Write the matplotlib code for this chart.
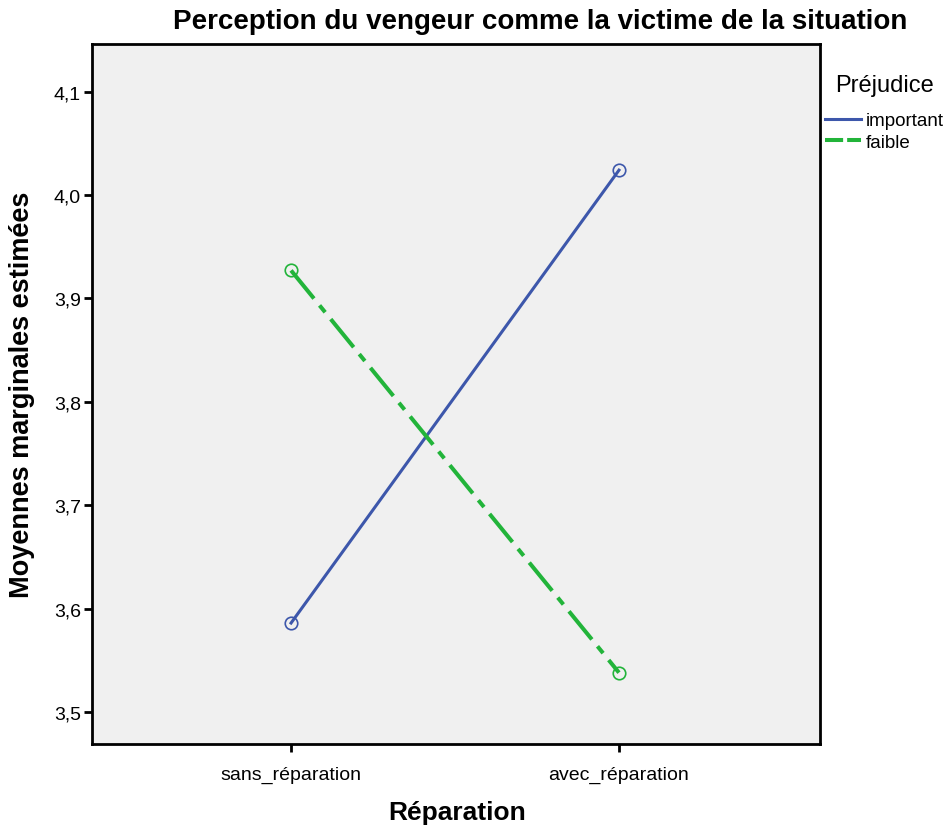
import matplotlib.pyplot as plt
from matplotlib.lines import Line2D
from matplotlib.ticker import FuncFormatter

plt.rcParams['font.family'] = ['Liberation Sans', 'DejaVu Sans']

categories = ['sans_réparation', 'avec_réparation']
important = [3.586, 4.024]
faible = [3.927, 3.538]
yticks = [3.5, 3.6, 3.7, 3.8, 3.9, 4.0, 4.1]

blue = '#3D57AB'
green = '#22B43A'
dashdot = (0, (9, 2.2, 2.2, 2.2))

fig = plt.figure(figsize=(9.45, 8.28), dpi=100)
ax = fig.add_axes([92/945, 1 - 745/828, 728/945, 700/828])
ax.set_facecolor('#F0F0F0')

x = list(range(len(categories)))
ax.plot(x, important, color=blue, lw=2.2, marker='o', ms=9, mfc='none',
        mec=blue, mew=1.2)
ax.plot(x, faible, color=green, lw=2.9, ls=dashdot, marker='o', ms=9,
        mfc='none', mec=green, mew=1.2)

ax.set_xlim(-0.607, 1.613)
ax.set_ylim(3.469, 4.146)
ax.set_xticks(x)
ax.set_xticklabels(categories, fontsize=14)
ax.set_yticks(yticks)
ax.yaxis.set_major_formatter(FuncFormatter(lambda v, p: f'{v:.1f}'.replace('.', ',')))
ax.tick_params(axis='y', labelsize=14, length=6, width=2, direction='out', pad=2)
ax.tick_params(axis='x', length=6, width=2, direction='out', pad=10)
for s in ax.spines.values():
    s.set_linewidth(2)

fig.text(540/945, 1 - 22/828, 'Perception du vengeur comme la victime de la situation',
         fontsize=20, fontweight='bold', ha='center', va='center')
fig.text(457/945, 1 - 813/828, 'Réparation', fontsize=19, fontweight='bold',
         ha='center', va='center')
fig.text(22/945, 1 - 395/828, 'Moyennes marginales estimées', fontsize=19.5,
         fontweight='bold', ha='center', va='center', rotation=90)

fig.text(835/945, 1 - 86/828, 'Préjudice', fontsize=17, ha='left', va='center')
handles = [Line2D([], [], color=blue, lw=2.2),
           Line2D([], [], color=green, lw=2.9, ls=(0, (4.5, 1, 4.5, 1)))]
ax.legend(handles, ['important', 'faible'], loc='upper left',
          bbox_to_anchor=(825/945, 1 - 113/828), bbox_transform=fig.transFigure,
          frameon=False, fontsize=13.5, handlelength=1.9, handletextpad=0.25,
          labelspacing=0.25, borderaxespad=0, borderpad=0)

fig.savefig('out.png', dpi=100)
